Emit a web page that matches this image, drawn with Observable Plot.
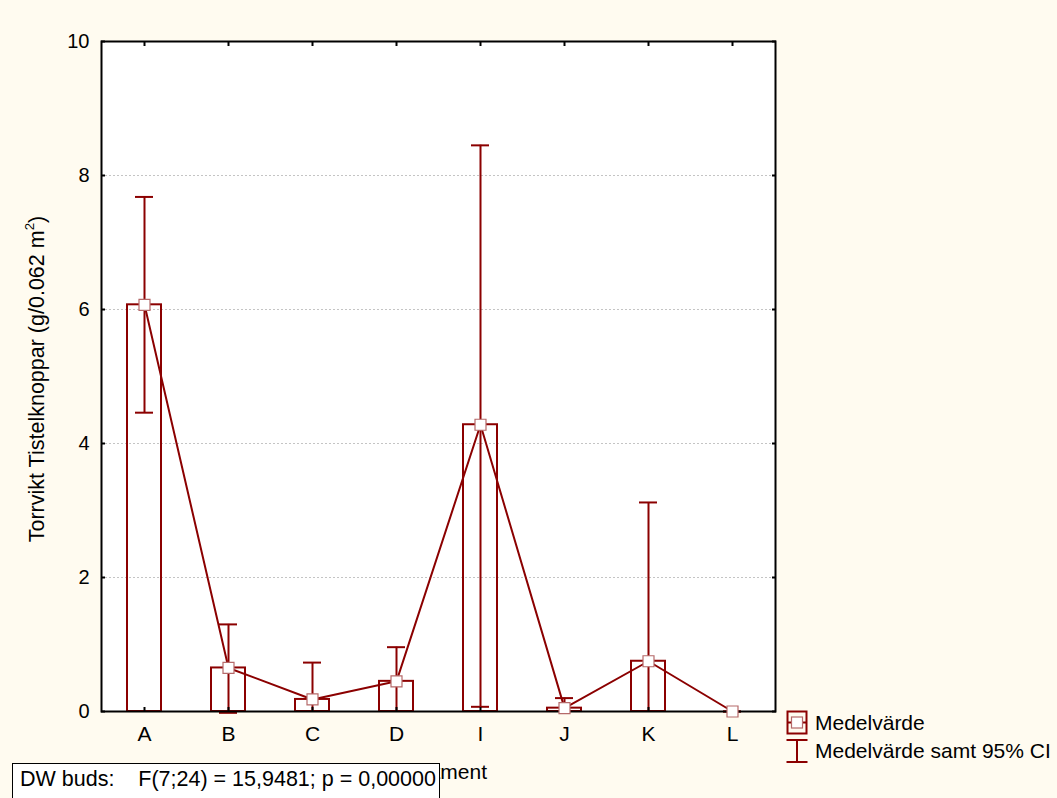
<!DOCTYPE html>
<html><head><meta charset="utf-8">
<script src="https://cdn.jsdelivr.net/npm/d3@7"></script>
<script src="https://cdn.jsdelivr.net/npm/@observablehq/plot@0.6"></script>
<style>
html,body{margin:0;padding:0;background:#fffbf0;}
#wrap{position:relative;width:1057px;height:798px;overflow:hidden;font-family:"Liberation Sans",Arial,sans-serif;color:#000;}
#chart{position:absolute;left:0;top:0;}
.leg{position:absolute;font-size:21px;line-height:24px;white-space:pre;}
.icon{position:absolute;}
#ytitle{position:absolute;left:37px;top:379px;transform:translate(-50%,-50%) rotate(-90deg);white-space:nowrap;font-size:21.5px;line-height:24px;}
#ytitle sup{font-size:0.62em;line-height:0;vertical-align:0.75em;}
#box{position:absolute;left:12px;top:763px;width:419px;height:40px;background:#fff;border:1.5px solid #000;font-size:21.5px;white-space:pre;padding:3px 0 0 7px;line-height:24px;}
</style></head><body>
<div id="wrap"><div id="chart"></div>
<div id="ytitle">Torrvikt Tistelknoppar (g/0.062 m<sup>2</sup>)</div>
<svg class="icon" style="left:786px;top:710px" width="22" height="25" viewBox="0 0 22 25">
  <rect x="1.5" y="1.5" width="19" height="22" fill="none" stroke="#8b0000" stroke-width="2"/>
  <line x1="1.5" y1="12.5" x2="20.5" y2="12.5" stroke="#8b0000" stroke-width="2"/>
  <rect x="5.5" y="7" width="11" height="11" fill="#fff" stroke="#b56a6a" stroke-width="1.2"/>
</svg>
<div class="leg" style="left:815px;top:711px">Medelvärde</div>
<svg class="icon" style="left:786px;top:738px" width="22" height="26" viewBox="0 0 22 26">
  <line x1="0.5" y1="2" x2="21.5" y2="2" stroke="#8b0000" stroke-width="2"/>
  <line x1="0.5" y1="24" x2="21.5" y2="24" stroke="#8b0000" stroke-width="2"/>
  <line x1="11" y1="2" x2="11" y2="24" stroke="#8b0000" stroke-width="2"/>
</svg>
<div class="leg" style="left:815px;top:739px">Medelvärde samt 95% CI</div>
<div id="box">DW buds:    F(7;24) = 15,9481; p = 0,00000</div>
</div>
<script>
const categories = ["A","B","C","D","I","J","K","L"];
const means  = [6.07, 0.65, 0.18, 0.45, 4.28, 0.05, 0.75, 0.00];
const ciLow  = [4.46, -0.02, -0.37, -0.06, 0.07, -0.10, -1.62, 0.00];
const ciHigh = [7.68, 1.30, 0.73, 0.96, 8.45, 0.20, 3.12, 0.00];
const yTicks = [0, 2, 4, 6, 8, 10];
const gridValues = [2, 4, 6, 8];
const xTitle = "Treatment";

const data = categories.map((c, i) => ({cat: c, mean: means[i], lo: ciLow[i], hi: ciHigh[i]}));
const red = "#8b0000";
const blank = () => "";

const chart = Plot.plot({
  width: 1057, height: 798,
  marginLeft: 101, marginRight: 282, marginTop: 41, marginBottom: 87,
  style: {background: "transparent", fontFamily: "Liberation Sans, Arial, sans-serif", fontSize: "20px", color: "#000"},
  x: {type: "band", domain: categories, padding: 0},
  y: {domain: [0, 10]},
  marks: [
    Plot.frame({fill: "white", stroke: null}),
    Plot.ruleY(gridValues, {stroke: "#c4c4c4", strokeDasharray: "2,2", strokeWidth: 1}),
    Plot.barY(data, {x: "cat", y: "mean", fill: "none", stroke: red, strokeWidth: 2, insetLeft: 25, insetRight: 25}),
    Plot.ruleX(data, {x: "cat", y1: "lo", y2: "hi", stroke: red, strokeWidth: 2, clip: true}),
    Plot.tickY(data, {x: "cat", y: "hi", stroke: red, strokeWidth: 2, insetLeft: 33, insetRight: 33}),
    Plot.tickY(data.filter(d => d.lo > -0.05), {x: "cat", y: "lo", stroke: red, strokeWidth: 2, insetLeft: 33, insetRight: 33}),
    Plot.lineY(data, {x: "cat", y: "mean", stroke: red, strokeWidth: 2}),
    Plot.axisY(yTicks, {anchor: "left", tickSize: 0, tickPadding: 12, fontSize: 20, label: null, tickFormat: d => String(d)}),
    Plot.axisY(yTicks, {anchor: "left", tickSize: -4, tickFormat: blank, label: null, strokeWidth: 2}),
    Plot.axisY(yTicks, {anchor: "right", tickSize: -4, tickFormat: blank, label: null, strokeWidth: 2}),
    Plot.axisX({anchor: "bottom", tickSize: 0, tickPadding: 15, fontSize: 21, label: null}),
    Plot.axisX({anchor: "bottom", tickSize: -4, tickFormat: blank, label: null, strokeWidth: 2}),
    Plot.axisX({anchor: "top", tickSize: -4, tickFormat: blank, label: null, strokeWidth: 2}),
    Plot.frame({stroke: "black", strokeWidth: 2}),
    Plot.dot(data, {x: "cat", y: "mean", symbol: "square", r: 6.2, fill: "white", stroke: "#b56a6a", strokeWidth: 1.2}),
    Plot.text([xTitle], {frameAnchor: "bottom", dy: 67, fontSize: 21, dx: 1})
  ]
});
document.getElementById("chart").appendChild(chart);
</script>
</body></html>
